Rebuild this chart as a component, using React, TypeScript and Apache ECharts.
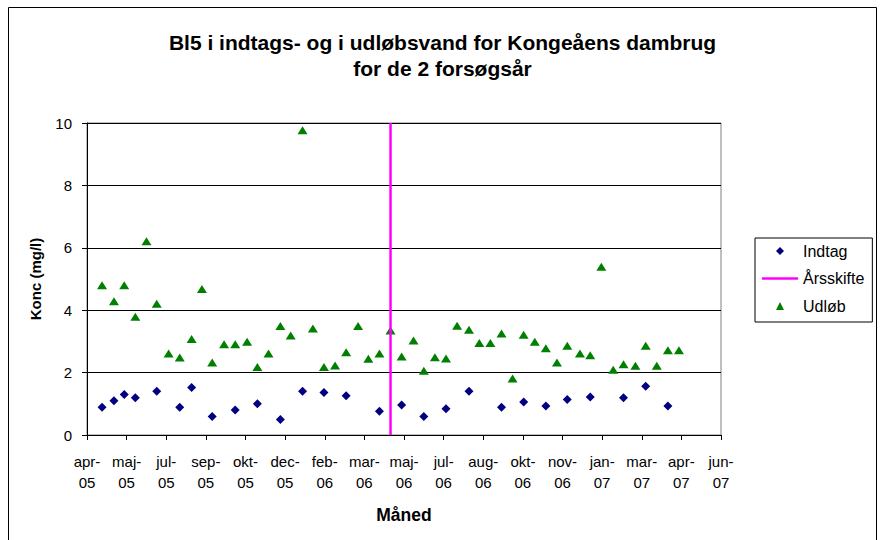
import { useEffect, useRef } from "react";
import * as echarts from "echarts";

// ---- data ----
const AXIS_START = "2005-04-08";
const AXIS_STEP_DAYS = 50;
const AXIS_STEPS = 16;
const xTickLabels = [
  "apr-\n05", "maj-\n05", "jul-\n05", "sep-\n05", "okt-\n05", "dec-\n05",
  "feb-\n06", "mar-\n06", "maj-\n06", "jul-\n06", "aug-\n06", "okt-\n06",
  "nov-\n06", "jan-\n07", "mar-\n07", "apr-\n07", "jun-\n07",
];
const yMin = 0;
const yMax = 10;
const yStep = 2;

const indtagDates = [
  "2005-04-27", "2005-05-12", "2005-05-25", "2005-06-08", "2005-07-05",
  "2005-08-03", "2005-08-18", "2005-09-13", "2005-10-12", "2005-11-09",
  "2005-12-08", "2006-01-05", "2006-02-01", "2006-03-01", "2006-04-12",
  "2006-05-10", "2006-06-07", "2006-07-05", "2006-08-03", "2006-09-13",
  "2006-10-11", "2006-11-08", "2006-12-05", "2007-01-03", "2007-02-14",
  "2007-03-14", "2007-04-11",
];
const indtagValues = [
  0.89, 1.10, 1.30, 1.19, 1.40,
  0.89, 1.52, 0.59, 0.80, 1.00,
  0.50, 1.40, 1.36, 1.26, 0.76,
  0.96, 0.59, 0.84, 1.40, 0.89,
  1.06, 0.93, 1.14, 1.22, 1.19,
  1.56, 0.93,
];

const udlobDates = [
  "2005-04-27", "2005-05-12", "2005-05-25", "2005-06-08", "2005-06-22",
  "2005-07-05", "2005-07-20", "2005-08-03", "2005-08-18", "2005-08-31",
  "2005-09-13", "2005-09-28", "2005-10-12", "2005-10-27", "2005-11-09",
  "2005-11-23", "2005-12-08", "2005-12-21", "2006-01-05", "2006-01-18",
  "2006-02-01", "2006-02-15", "2006-03-01", "2006-03-16", "2006-03-29",
  "2006-04-12", "2006-04-26", "2006-05-10", "2006-05-25", "2006-06-07",
  "2006-06-21", "2006-07-05", "2006-07-19", "2006-08-03", "2006-08-16",
  "2006-08-30", "2006-09-13", "2006-09-27", "2006-10-11", "2006-10-25",
  "2006-11-08", "2006-11-22", "2006-12-05", "2006-12-21", "2007-01-03",
  "2007-01-17", "2007-02-01", "2007-02-14", "2007-03-01", "2007-03-14",
  "2007-03-28", "2007-04-11", "2007-04-25",
];
const udlobValues = [
  4.80, 4.29, 4.80, 3.79, 6.21,
  4.21, 2.61, 2.48, 3.08, 4.68,
  2.32, 2.91, 2.91, 2.99, 2.18,
  2.61, 3.49, 3.19, 9.77, 3.41,
  2.18, 2.23, 2.65, 3.49, 2.44,
  2.61, 3.35, 2.52, 3.03, 2.06,
  2.49, 2.45, 3.50, 3.37, 2.95,
  2.95, 3.25, 1.81, 3.21, 2.99,
  2.78, 2.32, 2.86, 2.61, 2.56,
  5.39, 2.09, 2.27, 2.22, 2.86,
  2.22, 2.72, 2.72,
];

const aarsskifteDate = "2006-04-26";
const aarsskifteRange = [0, 10];

// ---- helpers ----
const DAY = 86400000;
const dayOffset = (iso: string) =>
  Math.round((Date.parse(iso) - Date.parse(AXIS_START)) / DAY);

const FONT = "Liberation Sans, Arial, sans-serif";
const DIAMOND_ICON = "path://M0,-1L1,0L0,1L-1,0Z";
const TRIANGLE_ICON = "path://M0,0L1,2L-1,2Z";
const LINE_ICON = "path://M0,0H36V2.5H0Z";

export default function App() {
  const ref = useRef<HTMLDivElement>(null);

  useEffect(() => {
    if (!ref.current) return;
    const chart = echarts.init(ref.current, undefined, { renderer: "svg" });

    const indtagData = indtagDates.map((d, i) => [dayOffset(d), indtagValues[i]]);
    const udlobData = udlobDates.map((d, i) => [dayOffset(d), udlobValues[i]]);
    const skift = dayOffset(aarsskifteDate);
    const skiftData = aarsskifteRange.map((v) => [skift, v]);

    chart.setOption({
      animation: false,
      backgroundColor: "#ffffff",
      textStyle: { fontFamily: FONT },
      title: {
        text: "Bl5 i indtags- og i udløbsvand for Kongeåens dambrug\nfor de 2 forsøgsår",
        left: 442.5,
        top: 29,
        padding: 0,
        textAlign: "center",
        textStyle: {
          fontFamily: FONT,
          fontSize: 21,
          fontWeight: "bold",
          color: "#000",
          lineHeight: 26,
        },
      },
      legend: {
        orient: "vertical",
        left: 755,
        top: 238,
        padding: [4, 8, 7, 7],
        itemWidth: 36,
        itemHeight: 8,
        itemGap: 9.5,
        symbolKeepAspect: true,
        borderColor: "#000",
        borderWidth: 1,
        textStyle: { fontFamily: FONT, fontSize: 16, color: "#000", lineHeight: 18 },
        data: [
          { name: "Indtag", icon: DIAMOND_ICON },
          { name: "Årsskifte", icon: LINE_ICON },
          { name: "Udløb", icon: TRIANGLE_ICON },
        ],
      },
      grid: {
        left: 87,
        right: 162,
        top: 123,
        bottom: 105,
        show: true,
        borderColor: "#808080",
        borderWidth: 1,
        backgroundColor: "transparent",
      },
      xAxis: {
        type: "value",
        min: 0,
        max: AXIS_STEP_DAYS * AXIS_STEPS,
        interval: AXIS_STEP_DAYS,
        name: "Måned",
        nameLocation: "middle",
        nameGap: 71,
        nameTextStyle: { fontFamily: FONT, fontSize: 17.5, fontWeight: "bold", color: "#000" },
        axisLine: { show: true, lineStyle: { color: "#000", width: 1 } },
        axisTick: { show: true, length: 5, lineStyle: { color: "#000" } },
        splitLine: { show: false },
        axisLabel: {
          margin: 16,
          fontFamily: FONT,
          fontSize: 15,
          lineHeight: 21,
          color: "#000",
          formatter: (v: number) => xTickLabels[Math.round(v / AXIS_STEP_DAYS)] ?? "",
        },
      },
      yAxis: {
        type: "value",
        min: yMin,
        max: yMax,
        interval: yStep,
        name: "Konc (mg/l)",
        nameLocation: "middle",
        nameGap: 44,
        nameTextStyle: { fontFamily: FONT, fontSize: 15, fontWeight: "bold", color: "#000" },
        axisLine: { show: true, lineStyle: { color: "#000", width: 1 } },
        axisTick: { show: true, length: 5, lineStyle: { color: "#000" } },
        splitLine: { show: true, lineStyle: { color: "#000", width: 1 } },
        axisLabel: { margin: 15, fontFamily: FONT, fontSize: 15, color: "#000" },
      },
      series: [
        {
          name: "Indtag",
          type: "scatter",
          symbol: "diamond",
          symbolSize: 9,
          itemStyle: { color: "#000080", opacity: 1 },
          data: indtagData,
          z: 2,
        },
        {
          name: "Årsskifte",
          type: "line",
          symbol: "none",
          lineStyle: { color: "#FF00FF", width: 2.5 },
          itemStyle: { color: "#FF00FF" },
          data: skiftData,
          z: 4,
        },
        {
          name: "Udløb",
          type: "scatter",
          symbol: "triangle",
          symbolSize: [10, 8],
          itemStyle: { color: "#008000", opacity: 1 },
          data: udlobData,
          z: 3,
        },
      ],
      graphic: [
        {
          type: "rect",
          shape: { x: 8.5, y: 7.5, width: 868, height: 545 },
          style: { fill: "none", stroke: "#000", lineWidth: 1 },
          silent: true,
          z: 100,
        },
      ],
    });

    return () => chart.dispose();
  }, []);

  return (
    <div
      ref={ref}
      style={{ position: "fixed", left: 0, top: 0, width: 883, height: 540, background: "#fff" }}
    />
  );
}
